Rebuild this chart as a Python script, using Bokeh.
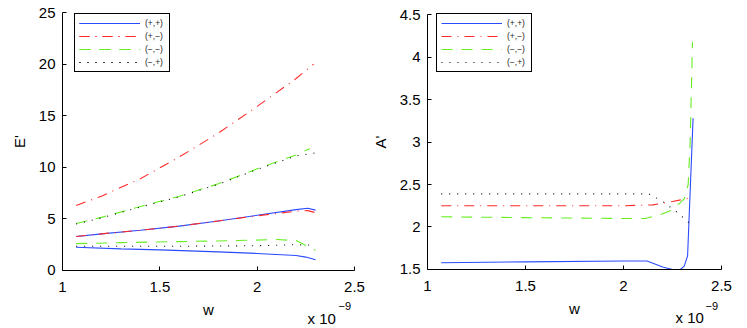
from bokeh.plotting import figure
from bokeh.models import Range1d, FixedTicker, CustomJSTickFormatter, Legend, LegendItem, Label
from bokeh.layouts import row
from bokeh.embed import file_html
from bokeh.resources import INLINE

# ---------------- data (w in units of 1e-9) ----------------
series_labels = ["(+,+)", "(+,\u2212)", "(\u2212,\u2212)", "(\u2212,+)"]

# Left panel: E' (two branches per series)
pp_up_w = [1.07, 1.2, 1.4, 1.6, 1.8, 2.0, 2.2, 2.26, 2.3]
pp_up_E = [3.3, 3.55, 3.9, 4.3, 4.8, 5.35, 5.9, 6.03, 5.85]
pp_lo_w = [1.07, 1.3, 1.5, 1.8, 2.0, 2.2, 2.25, 2.3]
pp_lo_E = [2.25, 2.1, 2.0, 1.8, 1.65, 1.45, 1.3, 1.05]

pm_up_w = [1.07, 1.2, 1.4, 1.6, 1.8, 2.0, 2.2, 2.29]
pm_up_E = [6.3, 7.2, 8.9, 11.0, 13.3, 15.9, 18.6, 20.0]
pm_lo_w = [1.07, 1.2, 1.4, 1.6, 1.8, 2.0, 2.2, 2.26, 2.3]
pm_lo_E = [3.3, 3.55, 3.9, 4.3, 4.8, 5.3, 5.75, 5.8, 5.6]

mm_up_w = [1.07, 1.2, 1.4, 1.6, 1.8, 2.0, 2.2, 2.27]
mm_up_E = [4.55, 5.15, 6.2, 7.2, 8.4, 9.85, 11.2, 11.8]
mm_lo_w = [1.07, 1.3, 1.6, 1.9, 2.1, 2.2, 2.3]
mm_lo_E = [2.6, 2.7, 2.8, 2.9, 3.0, 2.9, 1.95]

mp_up_w = [1.07, 1.2, 1.4, 1.6, 1.8, 2.0, 2.2, 2.3]
mp_up_E = [4.5, 5.1, 6.15, 7.15, 8.35, 9.8, 11.1, 11.4]
mp_lo_w = [1.07, 1.6, 2.0, 2.2, 2.3]
mp_lo_E = [2.35, 2.35, 2.4, 2.5, 2.45]

# Right panel: A'
pp_A_w = [1.07, 1.5, 2.0, 2.12, 2.2, 2.25, 2.29, 2.31, 2.327, 2.355]
pp_A = [1.58, 1.59, 1.6, 1.6, 1.53, 1.5, 1.5, 1.54, 1.66, 3.28]
pm_A_w = [1.07, 1.5, 2.0, 2.15, 2.25, 2.34]
pm_A = [2.25, 2.25, 2.25, 2.26, 2.3, 2.34]
mm_A_w = [1.07, 1.5, 2.0, 2.11, 2.18, 2.25, 2.31, 2.33, 2.34, 2.352]
mm_A = [2.12, 2.11, 2.1, 2.1, 2.14, 2.2, 2.33, 2.5, 3.0, 4.18]
mp_A_w = [1.07, 1.5, 2.0, 2.13, 2.2, 2.27, 2.33, 2.35]
mp_A = [2.39, 2.39, 2.39, 2.39, 2.3, 2.18, 2.06, 1.99]

x_ticks = [1, 1.5, 2, 2.5]
E_ticks = [0, 5, 10, 15, 20, 25]
A_ticks = [1.5, 2, 2.5, 3, 3.5, 4, 4.5]

# ---------------- styles ----------------
FONT = "Liberation Sans"
colors = ["#2a4bff", "#ff2a2a", "#66ee22", "#000000"]
dashes = ["solid", "10 6 1 6", "11 9", "1 7"]

fmt = CustomJSTickFormatter(code="return String(tick);")


def make_fig(width, xr, yr, xbounds, ybounds, yticks, ylabel):
    p = figure(width=width, height=328, x_range=Range1d(*xr), y_range=Range1d(*yr),
               output_backend="svg", toolbar_location=None,
               min_border=0, min_border_left=0, min_border_right=0,
               min_border_top=0, min_border_bottom=0)
    p.outline_line_color = None
    p.xgrid.visible = False
    p.ygrid.visible = False
    p.background_fill_color = "white"
    p.border_fill_color = "white"
    xa, ya = p.xaxis[0], p.yaxis[0]
    xa.fixed_location = ybounds[0]
    ya.fixed_location = xbounds[0]
    xa.bounds = xbounds
    ya.bounds = ybounds
    for ax, ticks in ((xa, x_ticks), (ya, yticks)):
        ax.ticker = FixedTicker(ticks=ticks)
        ax.formatter = fmt
        ax.minor_tick_line_color = None
        ax.major_tick_in = 4
        ax.major_tick_out = 0
        ax.axis_line_color = "black"
        ax.major_tick_line_color = "black"
        ax.major_label_text_font = FONT
        ax.major_label_text_font_size = "15px"
        ax.major_label_text_color = "black"
        ax.axis_label_text_font = FONT
        ax.axis_label_text_font_size = "15px"
        ax.axis_label_text_font_style = "normal"
        ax.axis_label_text_color = "black"
    xa.major_label_standoff = 12
    xa.axis_label = "w"
    xa.axis_label_standoff = 5
    ya.major_label_standoff = 7
    ya.axis_label = ylabel
    ya.axis_label_standoff = 8
    return p


def add_series(p, groups, loc):
    items = []
    for i, grp in enumerate(groups):
        rs = []
        for (xs, ys) in grp:
            rs.append(p.line(xs, ys, line_color=colors[i], line_width=1.1, line_dash=dashes[i]))
        items.append(LegendItem(label=series_labels[i], renderers=rs))
    leg = Legend(items=items, location=loc, margin=0, padding=4, spacing=3,
                 glyph_width=61, glyph_height=10, label_height=10, label_standoff=5,
                 label_text_font=FONT, label_text_font_size="8.5px", label_text_color="#222222",
                 border_line_color="black", border_line_width=1, border_line_alpha=1,
                 background_fill_color="white", background_fill_alpha=1)
    p.add_layout(leg)


def add_exponent(p, x1, y1, x2, y2):
    p.add_layout(Label(x=x1, y=y1, text="x 10", text_font=FONT, text_font_size="15px",
                       text_color="black", text_baseline="middle"))
    p.add_layout(Label(x=x2, y=y2, text="\u22129", text_font=FONT, text_font_size="11px",
                       text_color="black", text_baseline="middle"))


# left panel: frame spans whole canvas, axes at fixed locations
p1 = make_fig(367, (0.68151, 2.56676), (-5.6202, 26.1628), (1, 2.5), (0, 25), E_ticks, "E'")
add_series(p1, [
    [(pp_up_w, pp_up_E), (pp_lo_w, pp_lo_E)],
    [(pm_up_w, pm_up_E), (pm_lo_w, pm_lo_E)],
    [(mm_up_w, mm_up_E), (mm_lo_w, mm_lo_E)],
    [(mp_up_w, mp_up_E), (mp_lo_w, mp_lo_E)],
], (74, 256))
add_exponent(p1, 2.2586, -4.651, 2.4178, -3.488)

# right panel
p2 = make_fig(380, (0.69388, 2.63265), (0.80588, 4.66471), (1, 2.5), (1.5, 4.5), A_ticks, "A'")
add_series(p2, [
    [(pp_A_w, pp_A)],
    [(pm_A_w, pm_A)],
    [(mm_A_w, mm_A)],
    [(mp_A_w, mp_A)],
], (69, 256))
add_exponent(p2, 2.2653, 0.9353, 2.4184, 1.0706)

layout = row(p1, p2)
open("out.html", "w").write(file_html(layout, INLINE))
